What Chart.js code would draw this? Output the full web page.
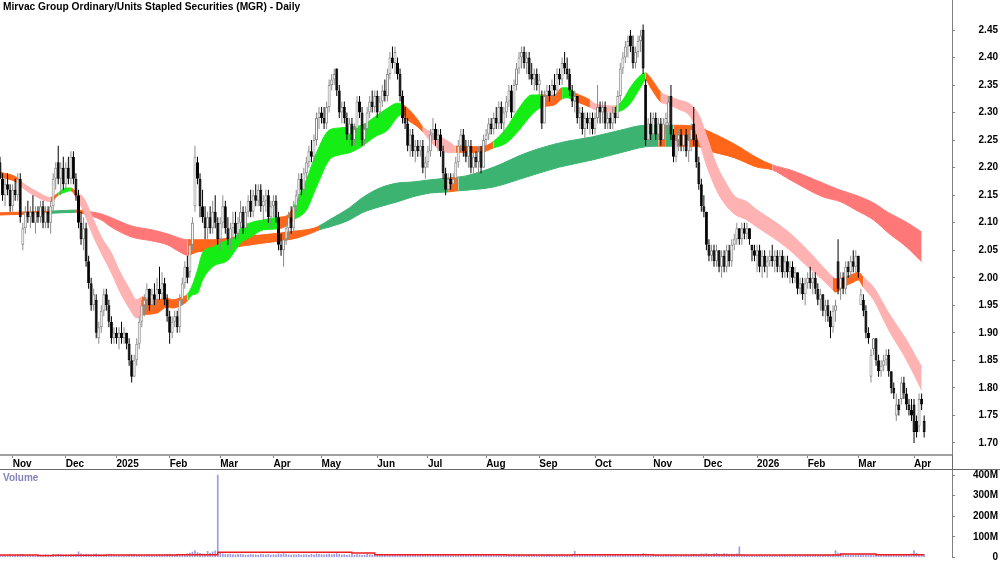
<!DOCTYPE html>
<html>
<head>
<meta charset="utf-8">
<title>MGR - Daily</title>
<script src="https://cdn.jsdelivr.net/npm/chart.js@4.4.1/dist/chart.umd.min.js"></script>
<style>
    html, body { margin: 0; padding: 0; background: #fff; }
    #wrap { position: relative; width: 1000px; height: 562px; overflow: hidden; }
    canvas { position: absolute; left: 0; }
    #priceChart { top: 0; }
    #volumeChart { top: 470px; }
    .lbl { position: absolute; font-family: Arial, "Liberation Sans", sans-serif; font-weight: bold; white-space: nowrap; }
    #title { left: 3px; top: 1px; font-size: 10.2px; color: #000; }
    #volLabel { left: 3px; top: 472px; font-size: 10px; color: #8484bc; }
</style>
</head>
<body>
<div id="wrap">
    <canvas id="priceChart" width="1000" height="470"></canvas>
    <canvas id="volumeChart" width="1000" height="92"></canvas>
    <div id="title" class="lbl">Mirvac Group Ordinary/Units Stapled Securities (MGR) - Daily</div>
    <div id="volLabel" class="lbl">Volume</div>
</div>
<script>
// Month ticks: bar index of the first trading day of each month
const monthIdx = [5, 26, 46, 67, 87, 108, 127, 149, 169, 192, 213, 235, 258, 278, 299, 319, 339, 361];
const monthLabels = ['Nov', 'Dec', '2025', 'Feb', 'Mar', 'Apr', 'May', 'Jun', 'Jul', 'Aug', 'Sep', 'Oct', 'Nov', 'Dec', '2026', 'Feb', 'Mar', 'Apr'];
const priceTicks = [1.70, 1.75, 1.80, 1.85, 1.90, 1.95, 2.00, 2.05, 2.10, 2.15, 2.20, 2.25, 2.30, 2.35, 2.40, 2.45];
const volumeTicks = [0, 100, 200, 300, 400];

// Daily bars in cents: [open, high, low, close], 25 Oct 2024 onwards
const candles = [
    [221,222,218,218],[218,219,214,215],[215,218,213,217],[217,219,215,216],[216,217,212,213],[213,217,212,216],[216,218,214,215],[215,219,214,218],[218,219,210,211],[206,210,205,209],
    [209,213,208,212],[212,214,210,211],[211,213,209,212],[212,215,210,210],[210,213,208,212],[212,213,210,211],[211,214,210,213],[213,214,209,210],[210,213,209,212],[212,213,209,210],
    [210,214,208,213],[213,219,212,218],[218,221,216,220],[221,224,217,218],[218,221,215,220],[220,222,216,217],[217,221,216,220],[220,222,217,218],[218,223,217,222],[222,223,217,218],
    [218,219,214,215],[215,216,209,210],[210,212,206,207],[207,211,205,209],[209,210,202,203],[203,204,198,199],[199,200,194,195],[195,198,194,197],[196,197,189,190],[189,192,188,191],
    [191,195,190,194],[194,198,193,197],[197,198,194,195],[195,196,191,192],[192,193,188,189],[189,191,188,190],[190,191,188,189],[189,191,187,190],[190,192,188,189],[189,191,188,190],
    [190,190,187,188],[188,189,184,185],[185,186,181,182],[182,186,182,185],[185,189,184,188],[188,193,187,192],[192,196,191,195],[195,197,193,196],[196,199,194,198],[198,198,194,195],
    [195,198,194,197],[197,199,195,196],[196,200,195,198],[198,202,196,197],[197,201,196,199],[199,200,195,196],[196,197,192,193],[193,194,188,190],[190,193,189,192],[192,194,191,193],
    [193,194,190,191],[191,197,190,196],[196,200,195,199],[199,203,198,202],[202,204,199,200],[201,207,200,206],[206,211,205,210],[213,224,212,222],[221,222,217,218],[218,219,211,213],
    [213,216,210,211],[211,213,207,209],[209,212,207,211],[211,213,208,209],[209,214,208,212],[212,215,209,210],[210,211,206,207],[207,211,205,210],[210,215,209,213],[213,214,208,209],
    [209,211,206,207],[207,210,205,209],[209,212,207,210],[210,212,207,208],[208,211,207,210],[210,214,209,212],[212,213,208,209],[209,213,208,212],[212,215,211,214],[214,216,211,212],
    [212,216,211,215],[215,217,213,214],[214,217,213,216],[216,217,212,213],[213,215,210,214],[214,216,212,215],[215,216,210,211],[211,214,209,213],[213,215,211,214],[214,215,210,211],
    [211,212,205,206],[206,208,204,205],[205,208,202,207],[207,210,206,209],[209,212,207,211],[211,213,208,209],[209,214,208,213],[213,216,212,215],[215,219,214,218],[218,219,215,216],
    [216,220,215,219],[219,222,218,221],[221,224,220,223],[223,225,221,222],[222,226,221,225],[225,230,224,229],[229,231,227,230],[230,231,228,229],[229,231,227,228],[228,232,227,231],
    [231,236,230,235],[235,237,234,236],[236,238,235,237],[238,238,233,234],[234,235,229,230],[230,232,228,231],[231,232,228,229],[229,230,225,226],[226,229,224,228],[228,229,224,225],
    [225,228,224,227],[227,233,226,232],[232,233,229,230],[230,231,224,225],[225,228,224,227],[227,231,226,230],[230,233,229,232],[232,234,230,231],[231,234,230,233],[233,234,229,230],
    [230,233,229,232],[232,235,231,234],[234,236,232,233],[233,238,232,237],[237,241,236,240],[240,242,238,239],[239,242,237,241],[239,240,236,237],[237,238,232,233],[233,234,228,229],
    [229,231,227,228],[228,229,223,224],[224,227,222,226],[226,227,222,223],[223,225,221,224],[224,225,222,223],[223,225,222,224],[224,225,219,220],[220,222,218,221],[221,224,220,223],
    [223,227,222,226],[226,229,225,227],[227,228,224,225],[225,227,223,226],[226,227,222,223],[223,224,218,219],[219,220,215,216],[216,219,216,218],[218,219,216,217],[217,219,216,218],
    [218,222,217,221],[221,225,220,224],[224,227,223,226],[226,227,222,223],[223,225,221,222],[222,225,220,224],[224,225,219,220],[220,223,219,222],[222,223,220,221],[221,224,219,223],
    [223,224,219,220],[220,226,220,225],[225,227,224,226],[226,229,225,228],[228,229,226,227],[227,230,226,229],[229,231,227,228],[228,232,227,231],[231,232,227,228],[228,231,226,230],
    [230,233,229,232],[232,235,231,234],[234,235,229,230],[230,236,230,235],[235,239,234,238],[238,241,237,240],[240,242,238,241],[241,242,238,239],[239,241,237,240],[240,241,236,237],
    [237,239,235,236],[236,238,234,237],[237,238,234,235],[235,237,233,236],[233,234,227,228],[228,234,228,233],[233,235,232,234],[234,235,232,233],[233,236,232,235],[235,237,233,234],
    [234,238,233,237],[237,238,235,236],[236,240,235,239],[239,241,237,238],[238,240,236,237],[237,238,233,234],[234,235,231,232],[232,234,230,233],[233,233,228,229],[229,231,227,230],
    [230,231,226,227],[227,230,225,229],[229,230,227,228],[228,230,226,229],[229,230,226,227],[227,230,226,229],[229,235,228,231],[231,232,228,230],[230,232,228,231],[231,232,227,228],
    [228,230,227,229],[229,230,227,228],[228,231,227,230],[230,231,228,229],[229,234,229,233],[233,239,232,238],[238,241,237,240],[240,243,239,242],[242,244,240,243],[244,245,241,242],
    [242,244,238,239],[239,242,238,241],[241,244,240,243],[243,245,241,244],[245,246,237,238],[235,236,224,225],[225,229,224,228],[228,230,225,226],[226,230,224,229],[229,230,225,226],
    [226,229,225,228],[228,229,224,225],[225,229,224,228],[228,230,226,229],[228,233,227,232],[233,235,225,226],[226,227,221,222],[222,226,221,225],[225,227,223,226],[226,227,223,224],
    [224,227,223,226],[226,227,222,223],[223,226,221,225],[225,228,223,227],[228,231,224,225],[225,226,220,221],[221,222,216,217],[217,218,212,213],[213,215,211,212],[212,212,205,206],
    [206,207,203,204],[204,206,203,205],[205,206,202,203],[203,206,202,205],[205,205,201,202],[202,205,200,204],[204,205,201,202],[202,206,201,205],[205,206,202,203],[203,207,202,206],
    [206,208,205,207],[207,210,206,209],[209,209,206,207],[207,210,206,209],[209,210,207,208],[208,210,207,209],[209,209,206,207],[206,206,203,205],[205,206,203,204],[204,206,201,205],
    [205,206,201,202],[202,205,200,204],[204,205,201,202],[202,204,200,203],[203,205,202,204],[204,206,202,203],[203,205,201,204],[204,205,201,202],[202,205,201,204],[204,205,200,201],
    [201,204,200,203],[203,204,200,201],[201,203,199,202],[202,203,199,200],[200,202,199,201],[201,201,197,198],[198,200,197,199],[199,200,196,197],[197,200,195,199],[199,201,198,200],
    [200,202,198,199],[199,201,197,200],[200,201,197,198],[198,199,195,196],[196,198,194,197],[197,197,193,194],[194,196,192,195],[195,196,192,193],[193,194,189,191],[191,195,190,194],
    [194,196,192,195],[203,207,197,198],[198,201,196,200],[200,201,197,198],[198,203,197,202],[202,203,200,201],[201,204,200,203],[203,205,201,202],[202,205,201,204],[204,204,200,201],
    [195,198,195,197],[196,197,193,194],[194,195,189,190],[190,191,188,189],[182,187,181,186],[187,189,186,189],[189,189,184,185],[185,186,182,183],[183,185,182,184],[184,186,183,185],
    [185,187,184,186],[186,187,182,183],[183,183,179,180],[180,181,178,179],[175,179,174,177],[177,178,175,176],[178,182,177,181],[181,182,178,179],[179,180,176,177],[177,178,175,176],
    [176,178,174,175],[177,178,170,172],[174,175,171,172],[173,179,172,178],[178,179,176,177],[174,175,171,172]
];

// Daily volume, millions of shares
const volumes = [
    12, 10, 11, 9, 13, 11, 10, 12, 14, 16,
    11, 9, 10, 12, 10, 9, 11, 10, 13, 12,
    11, 14, 12, 15, 13, 10, 12, 11, 14, 13,
    15, 27, 18, 14, 17, 16, 13, 15, 18, 14,
    12, 13, 11, 12, 14, 10, 8, 9, 10, 11,
    12, 14, 16, 13, 11, 12, 10, 11, 12, 13,
    11, 10, 12, 14, 11, 13, 15, 17, 13, 12,
    14, 13, 16, 15, 18, 22, 26, 34, 24, 20,
    18, 17, 30, 22, 28, 33, 400, 20, 18, 16,
    15, 17, 14, 13, 16, 15, 14, 12, 13, 15,
    14, 13, 12, 15, 14, 13, 16, 12, 14, 13,
    18, 16, 19, 15, 13, 12, 14, 13, 15, 12,
    13, 14, 12, 15, 13, 18, 16, 14, 13, 15,
    17, 14, 16, 19, 15, 13, 14, 12, 13, 15,
    12, 14, 13, 11, 12, 18, 14, 13, 15, 12,
    11, 13, 12, 14, 16, 15, 13, 14, 12, 11,
    12, 10, 13, 11, 12, 14, 13, 12, 11, 13,
    12, 14, 16, 13, 12, 15, 14, 13, 16, 12,
    13, 15, 14, 12, 11, 13, 12, 14, 13, 12,
    11, 12, 13, 15, 14, 13, 16, 12, 11, 13,
    12, 14, 13, 15, 12, 16, 14, 13, 12, 15,
    13, 14, 12, 11, 13, 12, 14, 15, 13, 12,
    11, 13, 14, 12, 13, 11, 15, 30, 12, 11,
    10, 12, 11, 9, 10, 12, 11, 10, 12, 13,
    11, 10, 12, 14, 13, 15, 12, 13, 11, 12,
    14, 13, 12, 16, 19, 17, 13, 12, 11, 13,
    12, 11, 10, 12, 13, 11, 12, 10, 9, 11,
    10, 12, 11, 13, 15, 16, 14, 18, 17, 19,
    16, 15, 18, 20, 17, 16, 19, 18, 15, 17,
    16, 18, 52, 14, 10, 9, 10, 11, 9, 10,
    11, 10, 12, 9, 10, 11, 12, 10, 11, 12,
    13, 11, 12, 10, 14, 12, 13, 11, 12, 15,
    13, 12, 14, 11, 13, 12, 15, 14, 13, 16,
    34, 22, 18, 16, 15, 14, 13, 15, 14, 16,
    15, 17, 16, 14, 18, 16, 15, 14, 13, 15,
    14, 16, 15, 13, 14, 12, 13, 15, 14, 16,
    18, 34, 20, 16, 15, 14
];

// Volume average (red step line), millions
const volAvgIdx = [0, 15, 21, 42, 70, 86, 139, 148, 200, 226, 258, 330, 332, 346, 365];
const volAvg = [12, 10, 11, 12, 13, 25, 22, 13, 12, 13, 12, 12, 17, 13, 13];

// Short-term trend ribbon: edges and state (g = up, o = mixed, p = down)
const shortIdx = [0, 7, 8, 14, 20, 23, 26, 28, 30, 33, 37, 40, 44, 47, 51, 54, 56, 62, 66, 68, 72, 74, 76, 78, 80, 84, 90, 93, 95, 99,
    104, 110, 113, 116, 121, 125, 130, 134, 138, 143, 148, 153, 157, 159, 161, 165, 167, 172, 178, 180, 190, 195, 200, 205, 210, 214, 219, 222, 224, 227,
    233, 235, 243, 246, 249, 253, 255, 257, 261, 263, 268, 273, 276, 279, 283, 286, 290, 295, 299, 305, 312, 319, 325, 329, 330, 333, 337, 339, 341, 345,
    351, 358, 364];
const shortUpper = [2.192, 2.181, 2.176, 2.158, 2.146, 2.154, 2.163, 2.163, 2.156, 2.145, 2.105, 2.074, 2.045, 2.014, 1.981, 1.960, 1.965, 1.960, 1.963, 1.960, 1.965, 1.970, 1.987, 2.014, 2.045, 2.056, 2.069, 2.074, 2.090, 2.100,
    2.105, 2.110, 2.112, 2.129, 2.178, 2.227, 2.268, 2.272, 2.274, 2.277, 2.292, 2.308, 2.317, 2.315, 2.308, 2.287, 2.274, 2.261, 2.245, 2.239, 2.238, 2.248, 2.272, 2.308, 2.332, 2.332, 2.332, 2.345, 2.345, 2.336,
    2.323, 2.316, 2.312, 2.323, 2.346, 2.368, 2.372, 2.363, 2.337, 2.332, 2.323, 2.314, 2.296, 2.259, 2.205, 2.178, 2.149, 2.138, 2.123, 2.105, 2.081, 2.050, 2.020, 2.001, 1.998, 2.000, 2.007, 2.010, 2.001, 1.983,
    1.936, 1.887, 1.838];
const shortLower = [2.183, 2.172, 2.167, 2.148, 2.138, 2.150, 2.156, 2.158, 2.147, 2.120, 2.074, 2.045, 2.009, 1.978, 1.945, 1.927, 1.932, 1.936, 1.947, 1.945, 1.951, 1.958, 1.969, 1.972, 1.996, 2.020, 2.032, 2.050, 2.063, 2.074,
    2.087, 2.089, 2.094, 2.105, 2.123, 2.165, 2.214, 2.223, 2.227, 2.239, 2.256, 2.268, 2.292, 2.297, 2.287, 2.274, 2.265, 2.238, 2.227, 2.228, 2.228, 2.236, 2.245, 2.268, 2.296, 2.310, 2.314, 2.325, 2.327, 2.321,
    2.310, 2.305, 2.301, 2.305, 2.317, 2.346, 2.359, 2.345, 2.319, 2.316, 2.306, 2.290, 2.250, 2.205, 2.159, 2.136, 2.116, 2.105, 2.092, 2.074, 2.050, 2.020, 1.996, 1.978, 1.974, 1.983, 1.992, 1.996, 1.983, 1.960,
    1.905, 1.851, 1.796];
const shortTrend = ['o', 'p', 'p', 'p', 'o', 'g', 'g', 'o', 'p', 'p', 'p', 'p', 'p', 'p', 'p', 'p', 'o', 'o', 'o', 'o', 'o', 'g', 'g', 'g', 'g', 'g', 'g', 'g', 'g', 'g',
    'g', 'o', 'o', 'g', 'g', 'g', 'g', 'g', 'g', 'g', 'g', 'g', 'g', 'o', 'o', 'o', 'p', 'p', 'p', 'o', 'o', 'g', 'g', 'g', 'g', 'o', 'o', 'g', 'g', 'o',
    'p', 'p', 'g', 'g', 'g', 'g', 'o', 'o', 'p', 'p', 'p', 'p', 'p', 'p', 'p', 'p', 'p', 'p', 'p', 'p', 'p', 'p', 'p', 'o', 'o', 'o', 'o', 'o', 'p', 'p',
    'p', 'p', 'p'];

// Long-term trend ribbon: edges and state (g = up, o = mixed, r = down)
const longIdx = [0, 20, 30, 34, 40, 44, 52, 60, 66, 71, 74, 78, 84, 93, 104, 117, 124, 126, 130, 138, 143, 150, 157, 163, 170, 177, 181, 184, 195, 208,
    221, 234, 245, 255, 260, 263, 266, 276, 279, 290, 299, 305, 312, 325, 332, 338, 345, 351, 358, 364];
const longUpper = [2.118, 2.121, 2.123, 2.121, 2.116, 2.109, 2.094, 2.087, 2.080, 2.072, 2.069, 2.069, 2.069, 2.074, 2.078, 2.085, 2.090, 2.094, 2.105, 2.127, 2.145, 2.163, 2.172, 2.174, 2.178, 2.181, 2.183, 2.185, 2.201, 2.227,
    2.245, 2.256, 2.268, 2.277, 2.277, 2.277, 2.277, 2.274, 2.268, 2.243, 2.218, 2.205, 2.196, 2.172, 2.159, 2.150, 2.136, 2.118, 2.101, 2.083];
const longLower = [2.114, 2.117, 2.119, 2.115, 2.105, 2.092, 2.074, 2.067, 2.060, 2.047, 2.041, 2.047, 2.050, 2.056, 2.063, 2.072, 2.083, 2.087, 2.092, 2.105, 2.118, 2.129, 2.138, 2.147, 2.154, 2.156, 2.158, 2.159, 2.165, 2.183,
    2.201, 2.214, 2.227, 2.238, 2.239, 2.239, 2.239, 2.238, 2.232, 2.218, 2.201, 2.196, 2.178, 2.147, 2.138, 2.123, 2.105, 2.081, 2.056, 2.029];
const longTrend = ['o', 'g', 'o', 'r', 'r', 'r', 'r', 'r', 'r', 'r', 'o', 'o', 'o', 'o', 'o', 'o', 'o', 'g', 'g', 'g', 'g', 'g', 'g', 'g', 'g', 'o', 'g', 'g', 'g', 'g',
    'g', 'g', 'g', 'g', 'o', 'g', 'o', 'o', 'o', 'o', 'o', 'r', 'r', 'r', 'r', 'r', 'r', 'r', 'r', 'r'];

// Styling
const X_MAX = 376;
const PRICE_MIN = 1.6781;
const PRICE_MAX = 2.5045;
const shortPalette = { g: '#14ee14', o: '#ff661a', p: '#ffb2b2' };
const longPalette = { g: '#3cb371', o: '#ff661a', r: '#ff7878' };
const tickFont = { family: 'Arial, "Liberation Sans", sans-serif', size: 10, weight: 'bold' };
const axisGray = '#808080';
const upGray = '#8c8c8c';

const isUp = i => candles[i][3] >= candles[i][0];

// Keep the plot edges where the axis ranges put them
const noEdgePadding = s => { s.width = 46; s.paddingTop = 0; s.paddingBottom = 0; };

function ribbon(idx, upper, lower, trend, palette, order) {
    const seg = {
        backgroundColor: c => palette[trend[c.p0DataIndex]],
        borderColor: c => palette[trend[c.p0DataIndex]]
    };
    const common = { type: 'line', borderWidth: 1, pointRadius: 0, cubicInterpolationMode: 'monotone', segment: seg, order: order };
    return [
        Object.assign({ data: idx.map((x, k) => ({ x: x, y: upper[k] })), fill: false }, common),
        Object.assign({ data: idx.map((x, k) => ({ x: x, y: lower[k] })), fill: '-1' }, common)
    ];
}

// Separator under the month strip and axis line through it
const panelLines = {
    id: 'panelLines',
    afterDraw(chart) {
        const ctx = chart.ctx;
        const r = Math.round(chart.chartArea.right) + 0.5;
        ctx.save();
        ctx.strokeStyle = '#6a6a6a';
        ctx.lineWidth = 1;
        ctx.beginPath();
        ctx.moveTo(0, 469.5);
        ctx.lineTo(chart.width, 469.5);
        ctx.moveTo(r, chart.chartArea.bottom);
        ctx.lineTo(r, chart.height);
        ctx.stroke();
        ctx.restore();
    }
};

new Chart(document.getElementById('priceChart'), {
    type: 'line',
    data: {
        datasets: [
            ...ribbon(longIdx, longUpper, longLower, longTrend, longPalette, 4),
            ...ribbon(shortIdx, shortUpper, shortLower, shortTrend, shortPalette, 3),
            {
                type: 'bar',
                data: candles.map((b, i) => ({ x: i, y: [b[2] / 100, b[1] / 100] })),
                barThickness: 1,
                grouped: false,
                borderWidth: 0,
                inflateAmount: 0,
                backgroundColor: c => isUp(c.dataIndex) ? upGray : '#000000',
                order: 2
            },
            {
                type: 'bar',
                data: candles.map((b, i) => ({ x: i, y: [b[0] / 100, b[3] / 100] })),
                barThickness: 3,
                grouped: false,
                minBarLength: 1,
                borderWidth: 1,
                borderSkipped: false,
                inflateAmount: 0,
                backgroundColor: c => isUp(c.dataIndex) ? '#ffffff' : '#000000',
                borderColor: c => isUp(c.dataIndex) ? upGray : '#000000',
                order: 1
            }
        ]
    },
    options: {
        responsive: false,
        animation: false,
        devicePixelRatio: 1,
        layout: { padding: { top: 0, right: 2, bottom: 0, left: 0 } },
        plugins: { legend: { display: false }, tooltip: { enabled: false } },
        scales: {
            x: {
                type: 'linear',
                min: 0,
                max: X_MAX,
                offset: false,
                afterFit: s => { s.height = 15; s.paddingLeft = 0; s.paddingRight = 0; },
                afterBuildTicks: s => { s.ticks = monthIdx.map(v => ({ value: v })); },
                ticks: {
                    callback: (v, i) => monthLabels[i],
                    align: 'start',
                    padding: 0,
                    maxRotation: 0,
                    autoSkip: false,
                    font: tickFont,
                    color: '#000'
                },
                grid: { drawOnChartArea: false, offset: false, tickLength: 3, color: axisGray },
                border: { color: '#a0a0a0', width: 2 }
            },
            y: {
                position: 'right',
                min: PRICE_MIN,
                max: PRICE_MAX,
                afterFit: noEdgePadding,
                afterBuildTicks: s => { s.ticks = priceTicks.map(v => ({ value: v })); },
                ticks: { callback: v => v.toFixed(2), crossAlign: 'far', font: tickFont, color: '#000' },
                grid: { drawOnChartArea: false, tickLength: 3, color: axisGray },
                border: { color: axisGray }
            }
        }
    },
    plugins: [panelLines]
});

new Chart(document.getElementById('volumeChart'), {
    type: 'bar',
    data: {
        datasets: [
            {
                type: 'line',
                data: volAvgIdx.map((x, k) => ({ x: x, y: volAvg[k] })),
                stepped: true,
                borderColor: '#ee1c1c',
                borderWidth: 1.5,
                pointRadius: 0,
                order: 0
            },
            {
                type: 'bar',
                data: volumes.map((v, i) => ({ x: i, y: v })),
                barThickness: 1,
                grouped: false,
                backgroundColor: '#9c9ce0',
                order: 1
            }
        ]
    },
    options: {
        responsive: false,
        animation: false,
        devicePixelRatio: 1,
        layout: { padding: { top: 0, right: 2, bottom: 4.5, left: 0 } },
        plugins: { legend: { display: false }, tooltip: { enabled: false } },
        scales: {
            x: { type: 'linear', min: 0, max: X_MAX, offset: false, display: false },
            y: {
                position: 'right',
                min: 0,
                max: 425,
                afterFit: noEdgePadding,
                afterBuildTicks: s => { s.ticks = volumeTicks.map(v => ({ value: v })); },
                ticks: { callback: v => v === 0 ? '0' : v + 'M', crossAlign: 'far', font: tickFont, color: '#000' },
                grid: { drawOnChartArea: false, tickLength: 3, color: axisGray },
                border: { color: axisGray }
            }
        }
    }
});
</script>
</body>
</html>
